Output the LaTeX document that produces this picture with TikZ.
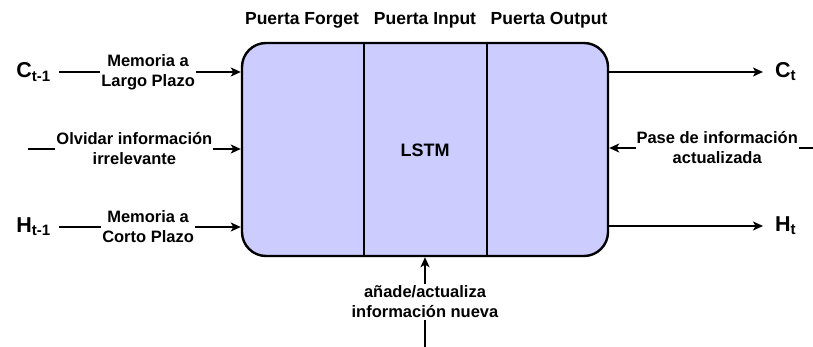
\documentclass[tikz,border=0pt]{standalone}
\usepackage{fontspec}
\setmainfont{Liberation Sans}
\usetikzlibrary{arrows.meta}
\definecolor{gatefill}{HTML}{CCCCFF}
\tikzset{
  arr/.style={line width=1.3pt,-{Stealth[length=10pt,width=9pt,inset=2.5pt]}},
  lbl/.style={fill=white,inner sep=1pt,align=center,font=\fontsize{16.5}{20}\selectfont\bfseries},
  gatehead/.style={font=\fontsize{17.5}{20}\selectfont\bfseries},
  sig/.style={inner sep=2pt,font=\fontsize{21.5}{24}\selectfont\bfseries},
  unit/.style={draw,line width=2.4pt,fill=gatefill,rounded corners=24pt,minimum width=366pt,minimum height=213pt,inner sep=0pt}
}
\begin{document}
\begin{tikzpicture}[x=1pt,y=-1pt]
\useasboundingbox (0,0) rectangle (813,347);

% LSTM cell with its three gates
\node[unit] (box) at (425,149.5) {};
\draw[line width=2.4pt] (364,43) -- (364,256);
\draw[line width=2.4pt] (487,43) -- (487,256);
\node[font=\fontsize{18}{20}\selectfont\bfseries] (lstm) at (425,150) {LSTM};

\node[gatehead] (gf) at (302,20) {Puerta Forget};
\node[gatehead] (gi) at (425,20) {Puerta Input};
\node[gatehead] (go) at (549,20) {Puerta Output};

% inputs
\node[sig,anchor=east] (cin) at (53,72) {C\textsubscript{t-1}};
\node[sig,anchor=east] (hin) at (53,227) {H\textsubscript{t-1}};
\coordinate (fin) at (28,149);

\draw[arr] (cin.east -| 59,0) -- (cin.east -| box.west)
  node[lbl,pos=0.49] {Memoria a\\Largo Plazo};
\draw[arr] (fin) -- (fin -| box.west)
  node[lbl,pos=0.5] {Olvidar información\\irrelevante};
\draw[arr] (hin.east -| 59,0) -- (hin.east -| box.west)
  node[lbl,pos=0.49] {Memoria a\\Corto Plazo};

% outputs
\node[sig,anchor=west] (cout) at (773,72) {C\textsubscript{t}};
\node[sig,anchor=west] (hout) at (773,226) {H\textsubscript{t}};
\draw[arr] (box.east |- cout.west) -- (cout.west -| 763,0);
\draw[arr] (box.east |- hout.west) -- (hout.west -| 763,0);

% update path from the right
\coordinate (uin) at (813,148);
\draw[arr] (uin) -- (uin -| box.east)
  node[lbl,pos=0.47] {Pase de información\\actualizada};

% new information from below
\coordinate (nin) at (425,347);
\draw[arr] (nin) -- (box.south)
  node[lbl,pos=0.5,inner ysep=2pt] {añade/actualiza\\información nueva};
\end{tikzpicture}
\end{document}
